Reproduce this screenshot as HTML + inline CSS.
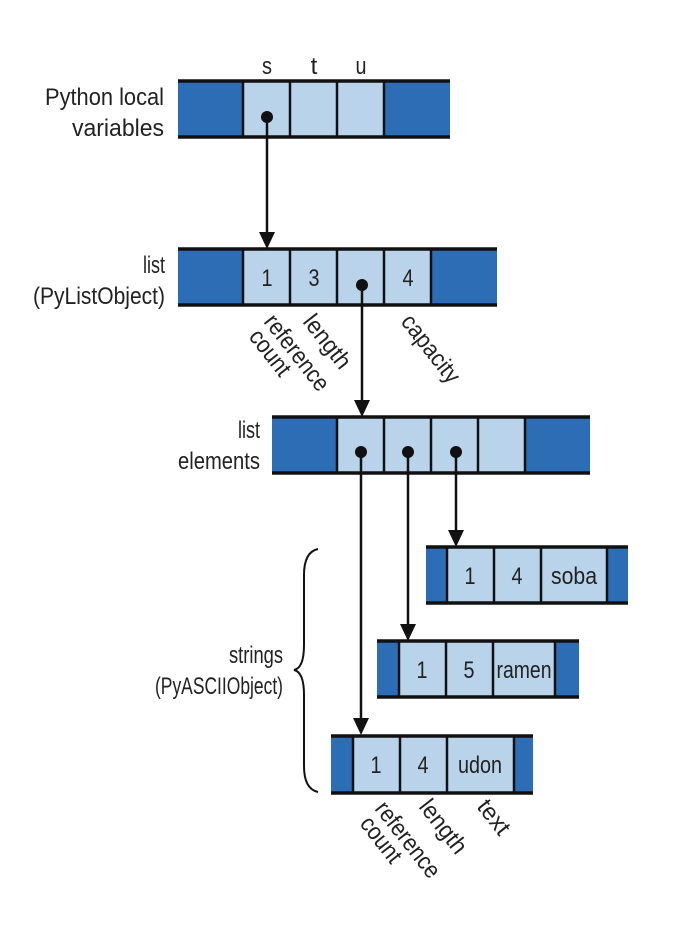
<!DOCTYPE html>
<html><head><meta charset="utf-8"><style>
html,body{margin:0;padding:0;background:#fff;}
svg{display:block;}
text{font-family:"Liberation Sans Narrow","Liberation Sans",sans-serif;font-size:24px;fill:#222;}
</style></head><body>
<svg width="680" height="926" viewBox="0 0 680 926" xmlns="http://www.w3.org/2000/svg">
<g stroke="#111" stroke-width="2.5">
<rect x="178" y="81" width="272" height="56" fill="#2d6db5" stroke="none"/>
<rect x="243" y="81" width="141" height="56" fill="#b9d4ea" stroke="none"/>
<line x1="178" y1="81" x2="450" y2="81" stroke-width="3.5"/>
<line x1="178" y1="137" x2="450" y2="137" stroke-width="3.5"/>
<line x1="243" y1="81" x2="243" y2="137"/><line x1="290" y1="81" x2="290" y2="137"/><line x1="337" y1="81" x2="337" y2="137"/><line x1="384" y1="81" x2="384" y2="137"/>
<rect x="178" y="249" width="319" height="56" fill="#2d6db5" stroke="none"/>
<rect x="243" y="249" width="188" height="56" fill="#b9d4ea" stroke="none"/>
<line x1="178" y1="249" x2="497" y2="249" stroke-width="3.5"/>
<line x1="178" y1="305" x2="497" y2="305" stroke-width="3.5"/>
<line x1="243" y1="249" x2="243" y2="305"/><line x1="290" y1="249" x2="290" y2="305"/><line x1="337" y1="249" x2="337" y2="305"/><line x1="384" y1="249" x2="384" y2="305"/><line x1="431" y1="249" x2="431" y2="305"/>
<rect x="272" y="417" width="318" height="56" fill="#2d6db5" stroke="none"/>
<rect x="337" y="417" width="188" height="56" fill="#b9d4ea" stroke="none"/>
<line x1="272" y1="417" x2="590" y2="417" stroke-width="3.5"/>
<line x1="272" y1="473" x2="590" y2="473" stroke-width="3.5"/>
<line x1="337" y1="417" x2="337" y2="473"/><line x1="384" y1="417" x2="384" y2="473"/><line x1="431" y1="417" x2="431" y2="473"/><line x1="478" y1="417" x2="478" y2="473"/><line x1="525" y1="417" x2="525" y2="473"/>
<rect x="426" y="547" width="202" height="56" fill="#2d6db5" stroke="none"/>
<rect x="447" y="547" width="160" height="56" fill="#b9d4ea" stroke="none"/>
<line x1="426" y1="547" x2="628" y2="547" stroke-width="3.5"/>
<line x1="426" y1="603" x2="628" y2="603" stroke-width="3.5"/>
<line x1="447" y1="547" x2="447" y2="603"/><line x1="494" y1="547" x2="494" y2="603"/><line x1="541" y1="547" x2="541" y2="603"/><line x1="607" y1="547" x2="607" y2="603"/>
<rect x="377" y="641" width="202" height="56" fill="#2d6db5" stroke="none"/>
<rect x="399" y="641" width="156" height="56" fill="#b9d4ea" stroke="none"/>
<line x1="377" y1="641" x2="579" y2="641" stroke-width="3.5"/>
<line x1="377" y1="697" x2="579" y2="697" stroke-width="3.5"/>
<line x1="399" y1="641" x2="399" y2="697"/><line x1="446" y1="641" x2="446" y2="697"/><line x1="493" y1="641" x2="493" y2="697"/><line x1="555" y1="641" x2="555" y2="697"/>
<rect x="331" y="736" width="202" height="57" fill="#2d6db5" stroke="none"/>
<rect x="353" y="736" width="161" height="57" fill="#b9d4ea" stroke="none"/>
<line x1="331" y1="736" x2="533" y2="736" stroke-width="3.5"/>
<line x1="331" y1="793" x2="533" y2="793" stroke-width="3.5"/>
<line x1="353" y1="736" x2="353" y2="793"/><line x1="400" y1="736" x2="400" y2="793"/><line x1="447" y1="736" x2="447" y2="793"/><line x1="514" y1="736" x2="514" y2="793"/>
<line x1="267" y1="117" x2="267" y2="235"/>
<line x1="362" y1="285" x2="362" y2="403"/>
<line x1="361" y1="452" x2="361" y2="721"/>
<line x1="408" y1="452" x2="408" y2="627"/>
<line x1="456" y1="452" x2="456" y2="533"/>
<path d="M318 549 Q304 552 304 575 L304 645 Q304 668 294 670 Q304 672 304 695 L304 766 Q304 789 318 792" fill="none" stroke-width="2"/>
</g>
<g fill="#111">
<circle cx="267" cy="117" r="6"/><circle cx="362" cy="285" r="6"/>
<circle cx="361" cy="452" r="6"/><circle cx="408" cy="452" r="6"/><circle cx="456" cy="452" r="6"/>
<polygon points="259,232 275,232 267,249"/>
<polygon points="354,400 370,400 362,417"/>
<polygon points="353,718 369,718 361,735"/>
<polygon points="400,624 416,624 408,641"/>
<polygon points="448,530 464,530 456,547"/>
</g>
<g text-anchor="middle">
<text x="267" y="74" textLength="10" lengthAdjust="spacingAndGlyphs">s</text><text x="314" y="74">t</text><text x="361" y="74" textLength="11" lengthAdjust="spacingAndGlyphs">u</text>
<text x="267" y="286" textLength="11" lengthAdjust="spacingAndGlyphs">1</text><text x="314" y="286" textLength="11" lengthAdjust="spacingAndGlyphs">3</text><text x="408" y="286" textLength="11" lengthAdjust="spacingAndGlyphs">4</text>
<text x="470" y="584" textLength="11" lengthAdjust="spacingAndGlyphs">1</text><text x="517" y="584" textLength="11" lengthAdjust="spacingAndGlyphs">4</text><text x="574" y="584" textLength="46" lengthAdjust="spacingAndGlyphs">soba</text>
<text x="422" y="678" textLength="11" lengthAdjust="spacingAndGlyphs">1</text><text x="469" y="678" textLength="11" lengthAdjust="spacingAndGlyphs">5</text><text x="524" y="678" textLength="55" lengthAdjust="spacingAndGlyphs">ramen</text>
<text x="376" y="773" textLength="11" lengthAdjust="spacingAndGlyphs">1</text><text x="423" y="773" textLength="11" lengthAdjust="spacingAndGlyphs">4</text><text x="480" y="773" textLength="44" lengthAdjust="spacingAndGlyphs">udon</text>
</g>
<g>
<text x="45" y="105" textLength="119" lengthAdjust="spacingAndGlyphs">Python local</text><text x="72" y="136" textLength="92" lengthAdjust="spacingAndGlyphs">variables</text>
<text x="143" y="273" textLength="22" lengthAdjust="spacingAndGlyphs">list</text><text x="33" y="304" textLength="132" lengthAdjust="spacingAndGlyphs">(PyListObject)</text>
<text x="238" y="438" textLength="22" lengthAdjust="spacingAndGlyphs">list</text><text x="178" y="469" textLength="82" lengthAdjust="spacingAndGlyphs">elements</text>
<text x="229" y="663" textLength="54" lengthAdjust="spacingAndGlyphs">strings</text><text x="155" y="694" textLength="128" lengthAdjust="spacingAndGlyphs">(PyASCIIObject)</text>
</g>
<g>
<text transform="translate(263,322) rotate(52)" textLength="90" lengthAdjust="spacingAndGlyphs">reference</text>
<text transform="translate(248,337) rotate(52)" textLength="52" lengthAdjust="spacingAndGlyphs">count</text>
<text transform="translate(302,322) rotate(52)" textLength="62" lengthAdjust="spacingAndGlyphs">length</text>
<text transform="translate(400,322) rotate(52)" textLength="80" lengthAdjust="spacingAndGlyphs">capacity</text>
<text transform="translate(374,809) rotate(52)" textLength="90" lengthAdjust="spacingAndGlyphs">reference</text>
<text transform="translate(359,824) rotate(52)" textLength="52" lengthAdjust="spacingAndGlyphs">count</text>
<text transform="translate(418,807) rotate(52)" textLength="62" lengthAdjust="spacingAndGlyphs">length</text>
<text transform="translate(476,807) rotate(52)" textLength="38" lengthAdjust="spacingAndGlyphs">text</text>
</g>
</svg>
</body></html>
